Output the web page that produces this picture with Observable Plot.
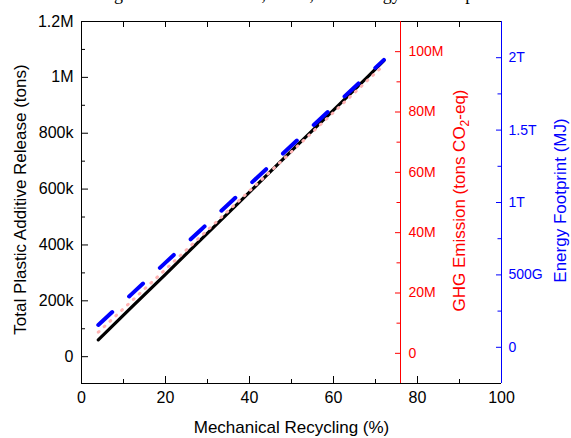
<!DOCTYPE html>
<html><head><meta charset="utf-8">
<script src="https://cdn.jsdelivr.net/npm/d3@7"></script>
<script src="https://cdn.jsdelivr.net/npm/@observablehq/plot@0.6"></script>
<style>
body{margin:0;background:#fff;overflow:hidden}
#wrap{position:relative;width:571px;height:438px;overflow:hidden}
#wrap svg{position:absolute;left:0;top:0}
#title{position:absolute;top:-15px;left:76px;font-family:"Liberation Serif";font-size:18px;line-height:18px;white-space:nowrap;color:#000}
</style></head><body>
<div id="wrap"><div id="title">Changes in Additive Loss, GHG, and Energy Consumption</div></div>
<script>
// Data
const recycling = [4, 12, 20, 28, 36, 44, 52, 60, 68, 72];              // %
const additiveRelease = [60e3, 178e3, 295e3, 413e3, 530e3, 648e3, 766e3, 883e3, 1000e3, 1060e3]; // tons
const ghgEmission = [7.0e6, 17.4e6, 27.8e6, 38.2e6, 48.6e6, 59.0e6, 69.4e6, 79.8e6, 90.3e6, 95.5e6]; // tons CO2-eq
const energyFootprint = [0.154e12, 0.369e12, 0.585e12, 0.800e12, 1.016e12, 1.231e12, 1.447e12, 1.662e12, 1.877e12, 1.985e12]; // MJ

const xTicks = [0, 20, 40, 60, 80, 100];
const xMinorTicks = [10, 30, 50, 70, 90];
const xTopTicks = [10, 20, 30, 40, 50, 60, 70, 80, 90];
const leftTicks = [0, 200e3, 400e3, 600e3, 800e3, 1e6, 1.2e6];
const leftMinorTicks = [100e3, 300e3, 500e3, 700e3, 900e3, 1.1e6];
const ghgTicks = [0, 20e6, 40e6, 60e6, 80e6, 100e6];
const ghgMinorTicks = [10e6, 30e6, 50e6, 70e6, 90e6];
const energyTicks = [0, 0.5e12, 1e12, 1.5e12, 2e12];
const energyMinorTicks = [0.25e12, 0.75e12, 1.25e12, 1.75e12];

const xTitle = "Mechanical Recycling (%)";
const leftTitle = "Total Plastic Additive Release (tons)";
const ghgTitle = "GHG Emission (tons CO2-eq)";
const energyTitle = "Energy Footprint (MJ)";

const rows = recycling.map((x, i) => ({x, release: additiveRelease[i], ghg: ghgEmission[i], energy: energyFootprint[i]}));

const fmtLeft = v => v === 0 ? "0" : v >= 1e6 ? (v / 1e6) + "M" : (v / 1e3) + "k";
const fmtGhg = v => v === 0 ? "0" : (v / 1e6) + "M";
const fmtEnergy = v => v === 0 ? "0" : v >= 1e12 ? (v / 1e12) + "T" : (v / 1e9) + "G";
const blank = () => "";

const common = {
  width: 571, height: 438,
  marginTop: 21, marginBottom: 55, marginLeft: 81
};
const baseStyle = {fontFamily: "Liberation Sans, Arial, sans-serif", fontSize: "16px", background: "transparent", overflow: "visible"};

const yLeftDomain = [-96e3, 1.2e6];

const pBlack = Plot.plot({
  ...common, marginRight: 70,
  style: {...baseStyle, color: "#000"},
  x: {domain: [0, 100]},
  y: {domain: yLeftDomain},
  marks: [
    Plot.axisX({ticks: xMinorTicks, tickSize: -4, tickFormat: blank, label: null}),
    Plot.axisX({ticks: xTicks, tickSize: -7, tickPadding: 15, tickFormat: d => String(d), label: null, fontSize: 16}),
    Plot.axisX({anchor: "top", ticks: xTopTicks, tickSize: -5, tickFormat: blank, label: null}),
    Plot.axisY({ticks: leftMinorTicks, tickSize: -4, tickFormat: blank, label: null}),
    Plot.axisY({ticks: leftTicks, tickSize: -7, tickPadding: 15, tickFormat: fmtLeft, label: null, fontSize: 16}),
    Plot.ruleX([0], {stroke: "#000"}),
    Plot.ruleY([yLeftDomain[1]], {stroke: "#000"}),
    Plot.ruleY([yLeftDomain[0]], {stroke: "#000"}),
    Plot.line(rows, {x: "x", y: "release", stroke: "#000", strokeWidth: 3.2}),
    Plot.text([xTitle], {text: d => d, frameAnchor: "bottom", textAnchor: "middle", lineAnchor: "middle", dy: 44, fontSize: 17, fill: "#000"}),
    Plot.text([leftTitle], {text: d => d, frameAnchor: "left", textAnchor: "middle", lineAnchor: "middle", dx: -61, dy: -3, rotate: -90, fontSize: 17, fill: "#000"})
  ]
});

const pRed = Plot.plot({
  ...common, marginRight: 171,
  style: {...baseStyle, color: "#ff0000"},
  x: {domain: [0, 76], axis: null},
  y: {domain: [-10e6, 110e6]},
  marks: [
    Plot.axisY({anchor: "right", ticks: ghgMinorTicks, tickSize: -4.5, tickFormat: blank, label: null}),
    Plot.axisY({anchor: "right", ticks: ghgTicks, tickSize: -6, tickPadding: 14, tickFormat: fmtGhg, label: null, fontSize: 14}),
    Plot.ruleX([76], {stroke: "#ff0000"}),
    Plot.line(rows, {x: "x", y: "ghg", stroke: "#ffb4b4", strokeWidth: 3, strokeDasharray: "1,7"}),
    Plot.text([ghgTitle], {text: d => d, frameAnchor: "right", textAnchor: "middle", lineAnchor: "middle", dx: 59, dy: -2, rotate: -90, fontSize: 17, fill: "#ff0000"})
  ]
});

const pBlue = Plot.plot({
  ...common, marginRight: 70,
  style: {...baseStyle, color: "#0000ff"},
  x: {domain: [0, 100], axis: null},
  y: {domain: [-0.25e12, 2.25e12]},
  marks: [
    Plot.axisY({anchor: "right", ticks: energyMinorTicks, tickSize: -4.5, tickFormat: blank, label: null}),
    Plot.axisY({anchor: "right", ticks: energyTicks, tickSize: -6, tickPadding: 13, tickFormat: fmtEnergy, label: null, fontSize: 14}),
    Plot.ruleX([100], {stroke: "#0000ff"}),
    Plot.line(rows, {x: "x", y: "energy", stroke: "#0000ff", strokeWidth: 4, strokeDasharray: "19,23"}),
    Plot.text([energyTitle], {text: d => d, frameAnchor: "right", textAnchor: "middle", lineAnchor: "middle", dx: 59, dy: -2, rotate: -90, fontSize: 17, fill: "#0000ff"})
  ]
});

const wrap = document.getElementById("wrap");
wrap.appendChild(pBlack);
wrap.appendChild(pRed);
wrap.appendChild(pBlue);

// subscript in CO2
d3.select(pRed).selectAll("text").filter(function () { return this.textContent === ghgTitle; })
  .each(function () {
    this.innerHTML = 'GHG Emission (tons CO<tspan dy="4" font-size="12">2</tspan><tspan dy="-4">-eq)</tspan>';
  });
</script>
</body></html>
